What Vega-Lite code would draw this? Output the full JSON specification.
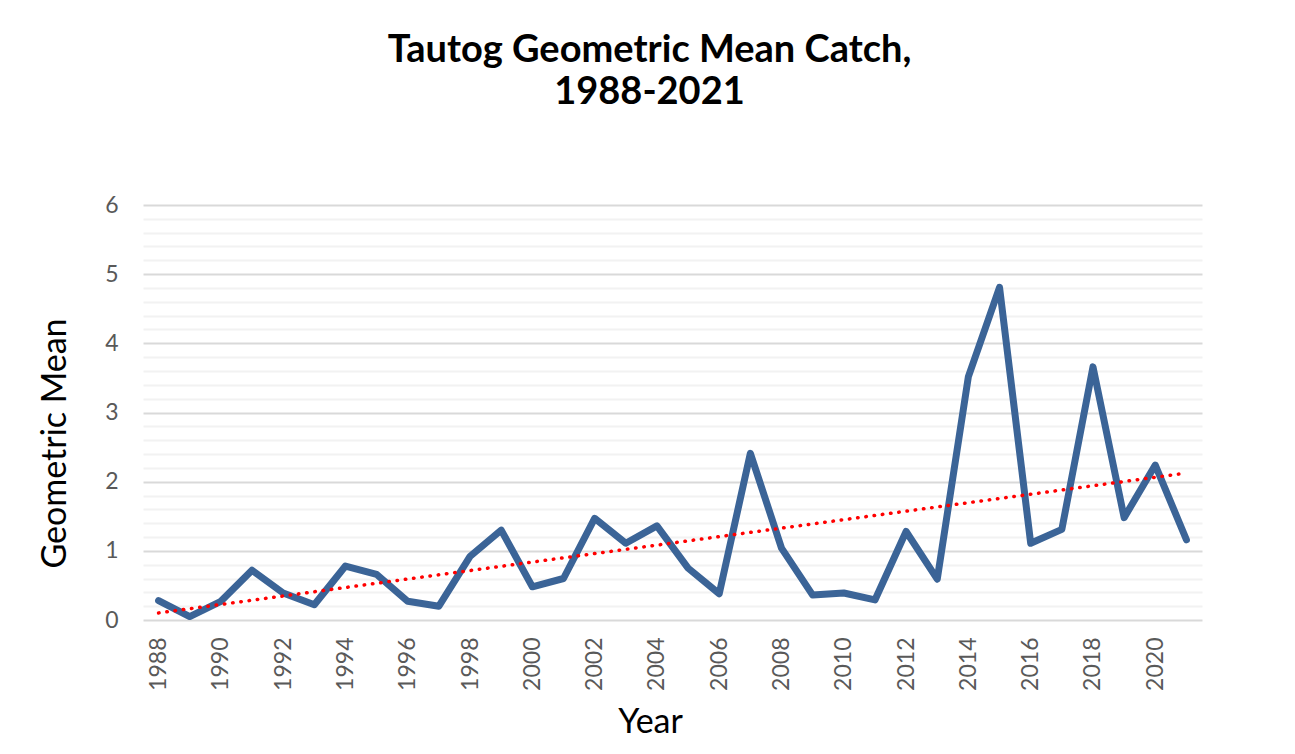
{
  "$schema": "https://vega.github.io/schema/vega-lite/v6.json",
  "width": 1059,
  "height": 415,
  "autosize": {"type": "none"},
  "padding": {"left": 143, "top": 205, "right": 93, "bottom": 134},
  "background": "white",
  "config": {
    "view": {"stroke": null},
    "font": "Lato"
  },
  "title": {
    "text": ["Tautog Geometric Mean Catch,", "1988-2021"],
    "font": "Lato",
    "fontSize": 38,
    "fontWeight": "bold",
    "color": "#000000",
    "anchor": "middle",
    "baseline": "alphabetic",
    "lineHeight": 42,
    "offset": 52,
    "dx": -23
  },
  "data": {
    "values": [
      {"year": 1988, "value": 0.28},
      {"year": 1989, "value": 0.05},
      {"year": 1990, "value": 0.27},
      {"year": 1991, "value": 0.72},
      {"year": 1992, "value": 0.39},
      {"year": 1993, "value": 0.22},
      {"year": 1994, "value": 0.78},
      {"year": 1995, "value": 0.66},
      {"year": 1996, "value": 0.27},
      {"year": 1997, "value": 0.2},
      {"year": 1998, "value": 0.92},
      {"year": 1999, "value": 1.3},
      {"year": 2000, "value": 0.48},
      {"year": 2001, "value": 0.6},
      {"year": 2002, "value": 1.47},
      {"year": 2003, "value": 1.11},
      {"year": 2004, "value": 1.36},
      {"year": 2005, "value": 0.75},
      {"year": 2006, "value": 0.38},
      {"year": 2007, "value": 2.41},
      {"year": 2008, "value": 1.04},
      {"year": 2009, "value": 0.36},
      {"year": 2010, "value": 0.39},
      {"year": 2011, "value": 0.29},
      {"year": 2012, "value": 1.28},
      {"year": 2013, "value": 0.59},
      {"year": 2014, "value": 3.52},
      {"year": 2015, "value": 4.81},
      {"year": 2016, "value": 1.11},
      {"year": 2017, "value": 1.31},
      {"year": 2018, "value": 3.66},
      {"year": 2019, "value": 1.48},
      {"year": 2020, "value": 2.24},
      {"year": 2021, "value": 1.16}
    ]
  },
  "encoding": {
    "x": {
      "field": "year",
      "type": "quantitative",
      "scale": {"domain": [1987.5, 2021.5], "nice": false, "zero": false},
      "axis": {
        "title": "Year",
        "titleFont": "Lato",
        "titleFontSize": 34,
        "titleFontWeight": "normal",
        "titleColor": "#000000",
        "titleX": 507,
        "titleY": 112,
        "titleBaseline": "alphabetic",
        "titleAlign": "center",
        "values": [1988, 1990, 1992, 1994, 1996, 1998, 2000, 2002, 2004, 2006, 2008, 2010, 2012, 2014, 2016, 2018, 2020],
        "format": "d",
        "labelAngle": 270,
        "labelFont": "Lato",
        "labelFontSize": 23,
        "labelColor": "#595959",
        "labelPadding": 17,
        "labelOverlap": false,
        "ticks": false,
        "domain": false,
        "grid": false
      }
    },
    "y": {
      "field": "value",
      "type": "quantitative",
      "scale": {"domain": [0, 6], "nice": false},
      "axis": {
        "title": "Geometric Mean",
        "titleFont": "Lato",
        "titleFontSize": 34,
        "titleFontWeight": "normal",
        "titleColor": "#000000",
        "titleX": -88,
        "titleY": 238,
        "titleAngle": 270,
        "titleBaseline": "middle",
        "titleAlign": "center",
        "values": [0, 0.2, 0.4, 0.6, 0.8, 1, 1.2, 1.4, 1.6, 1.8, 2, 2.2, 2.4, 2.6, 2.8, 3, 3.2, 3.4, 3.6, 3.8, 4, 4.2, 4.4, 4.6, 4.8, 5, 5.2, 5.4, 5.6, 5.8, 6],
        "labelExpr": "datum.value % 1 === 0 ? format(datum.value, 'd') : ''",
        "labelFont": "Lato",
        "labelFontSize": 23,
        "labelColor": "#595959",
        "labelPadding": 25,
        "labelOverlap": false,
        "ticks": false,
        "domain": false,
        "grid": true,
        "gridWidth": 2,
        "gridColor": {"condition": {"test": "datum.value % 1 === 0", "value": "#d9d9d9"}, "value": "#f2f2f2"}
      }
    }
  },
  "layer": [
    {
      "mark": {"type": "line", "color": "#3b6497", "strokeWidth": 7, "strokeCap": "round", "strokeJoin": "round"}
    },
    {
      "transform": [{"regression": "value", "on": "year"}],
      "mark": {"type": "line", "color": "#ff0000", "strokeWidth": 3.5, "strokeCap": "round", "strokeDash": [0.5, 7.8]}
    }
  ]
}
